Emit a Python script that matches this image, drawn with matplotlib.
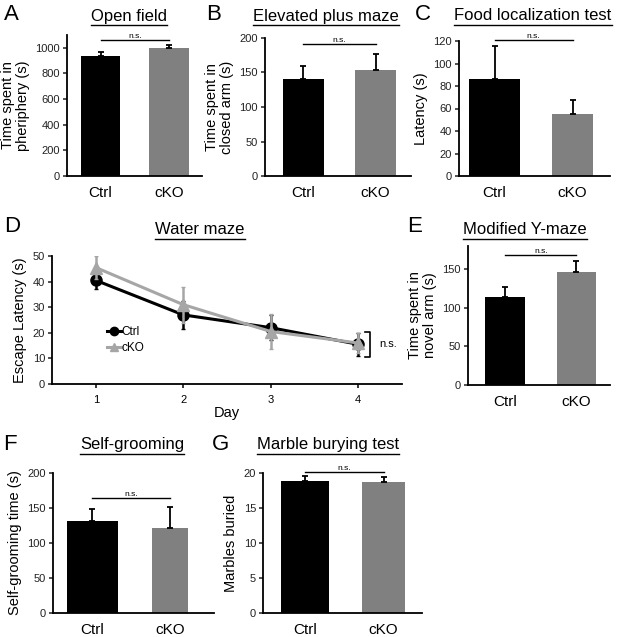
import numpy as np
import matplotlib
matplotlib.use('Agg')
import matplotlib.pyplot as plt
from matplotlib.lines import Line2D

plt.rcParams['font.family'] = ['Liberation Sans', 'DejaVu Sans']

W, H = 617, 637

groups = ['Ctrl', 'cKO']
bar_colors = ['#000000', '#808080']

# A open field
open_field = [940, 1000]
open_field_err = [25, 20]
# B elevated plus maze
epm = [141, 153]
epm_err = [19, 24]
# C food localization
food = [86, 55]
food_err = [30, 13]
# D water maze
days = [1, 2, 3, 4]
wm_ctrl = [40.5, 27, 22, 15.5]
wm_ctrl_err = [3.5, 5.5, 5, 4.5]
wm_cko = [45.5, 31, 20.5, 16]
wm_cko_err = [4.5, 7, 7, 4]
# E modified Y-maze
ymaze = [114, 146]
ymaze_err = [13, 14]
# F self-grooming
groom = [131, 122]
groom_err = [18, 30]
# G marble burying
marble = [18.9, 18.7]
marble_err = [0.7, 0.7]

fig = plt.figure(figsize=(W / 100, H / 100), dpi=100)


def box(l, r, t, b):
    return [l / W, 1 - b / H, (r - l) / W, (b - t) / H]


def style(ax):
    for s in ['top', 'right']:
        ax.spines[s].set_visible(False)
    for s in ['left', 'bottom']:
        ax.spines[s].set_linewidth(1.3)
    ax.tick_params(axis='y', labelsize=8, length=3, width=1.1, pad=2, colors='#222222')
    ax.tick_params(axis='x', labelsize=11, length=0, pad=7)


def bars(rect, vals, errs, ylim, yticks, xlim, widths, ylabel, ns_y):
    ax = fig.add_axes(box(*rect))
    x = np.arange(len(vals))
    ax.bar(x, vals, width=widths, color=bar_colors,
           yerr=[[0, 0], errs], error_kw=dict(ecolor='black', elinewidth=1.3, capsize=2, capthick=1.3))
    ax.set_xlim(*xlim)
    ax.set_ylim(*ylim)
    ax.set_yticks(yticks)
    ax.set_xticks(x)
    ax.set_xticklabels(groups)
    ax.set_ylabel(ylabel, fontsize=10.5, labelpad=4, linespacing=1.1)
    style(ax)
    ax.plot([x[0], x[1]], [ns_y, ns_y], color='black', lw=1, clip_on=False)
    ax.text(np.mean(x), ns_y, 'n.s.', fontsize=6, ha='center', va='bottom')
    return ax


bars((67, 202, 35, 176), open_field, open_field_err, (0, 1100), range(0, 1001, 200),
     (-0.49, 1.48), [0.57, 0.58], 'Time spent in\npheriphery (s)', 1060)
bars((265, 411, 38, 176), epm, epm_err, (0, 200), range(0, 201, 50),
     (-0.53, 1.49), [0.57, 0.57], 'Time spent in\nclosed arm (s)', 191)
bars((459, 610, 41, 176), food, food_err, (0, 120), range(0, 121, 20),
     (-0.455, 1.48), [0.65, 0.53], 'Latency (s)', 121)
bars((468, 610, 246, 385), ymaze, ymaze_err, (0, 180), range(0, 151, 50),
     (-0.52, 1.47), [0.56, 0.55], 'Time spent in\nnovel arm (s)', 168)
bars((53, 214, 473, 613), groom, groom_err, (0, 200), range(0, 201, 50),
     (-0.51, 1.57), [0.66, 0.47], 'Self-grooming time (s)', 164)
bars((263, 422, 473, 613), marble, marble_err, (0, 20), range(0, 21, 5),
     (-0.535, 1.49), [0.61, 0.55], 'Marbles buried', 20.1)

# D water maze
axd = fig.add_axes(box(52, 402, 256, 384))
axd.errorbar(days, wm_ctrl, yerr=wm_ctrl_err, color='black', lw=2.2, marker='o', ms=8,
             elinewidth=1.8, capsize=1.5, zorder=2)
axd.errorbar(days, wm_cko, yerr=wm_cko_err, color='#a6a6a6', lw=2.2, marker='^', ms=8,
             elinewidth=1.8, capsize=1.5, zorder=3)
axd.set_xlim(0.5, 4.5)
axd.set_ylim(0, 50)
axd.set_yticks(range(0, 51, 10))
axd.set_xticks(days)
style(axd)
axd.tick_params(axis='x', labelsize=8, length=3, width=1.1, pad=5)
axd.set_xlabel('Day', fontsize=10.5, labelpad=1)
axd.set_ylabel('Escape Latency (s)', fontsize=10.5, labelpad=4)
handles = [Line2D([], [], color='black', lw=2.2, marker='o', ms=6),
           Line2D([], [], color='#a6a6a6', lw=2.2, marker='^', ms=6)]
axd.legend(handles, groups, loc='upper left', bbox_to_anchor=(0.14, 0.5), frameon=False,
           fontsize=8.5, handlelength=1.2, handletextpad=0.0, labelspacing=0.35, borderpad=0)
bx = (365 - 52) / 350 * 4 + 0.5
axd.plot([bx, bx + 0.06, bx + 0.06, bx], [20.5, 20.5, 10.5, 10.5], color='black', lw=1.2,
         clip_on=False)
axd.text(bx + 0.16, 15.5, 'n.s.', fontsize=8, va='center', ha='left')

# titles, underlined
titles = [('Open field', 129, 16), ('Elevated plus maze', 326, 16),
          ('Food localization test', 533, 16), ('Water maze', 200, 230),
          ('Modified Y-maze', 525, 230), ('Self-grooming', 132, 445),
          ('Marble burying test', 328, 445)]
letters = [('A', 4, 14), ('B', 206, 14), ('C', 415, 14), ('D', 4, 227),
           ('E', 407, 227), ('F', 3, 445), ('G', 212, 445)]

tobjs = []
for t, x, y in titles:
    tobjs.append(fig.text(x / W, 1 - y / H, t, fontsize=12, ha='center', va='center'))
for t, x, y in letters:
    fig.text(x / W, 1 - y / H, t, fontsize=16, ha='left', va='center')

fig.canvas.draw()
r = fig.canvas.get_renderer()
for t in tobjs:
    bb = t.get_window_extent(r)
    yl = (bb.y0 - 1.5) / H
    fig.add_artist(plt.Line2D([bb.x0 / W, bb.x1 / W], [yl, yl], color='black', lw=1))

fig.savefig('out.png', dpi=100)
